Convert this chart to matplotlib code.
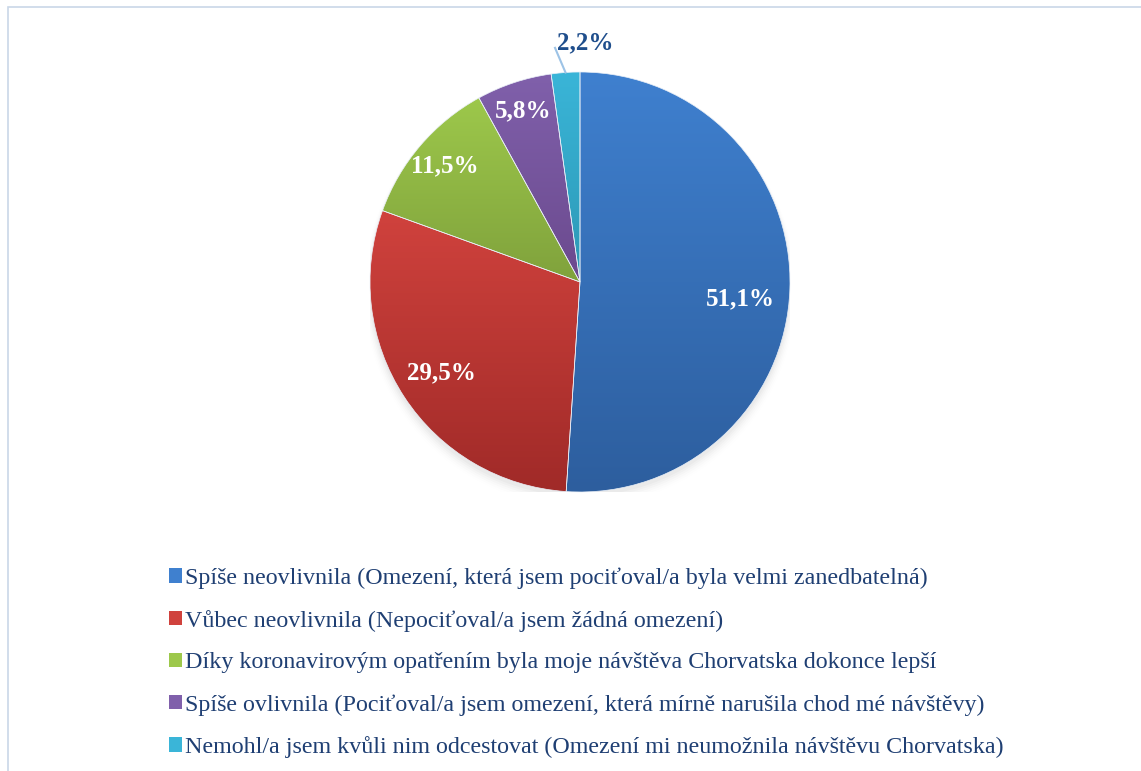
import numpy as np
import matplotlib
matplotlib.use("Agg")
import matplotlib.pyplot as plt
from matplotlib.colors import LinearSegmentedColormap
from matplotlib.patches import Rectangle

plt.rcParams['font.family'] = ['Liberation Serif', 'DejaVu Serif']

# data
categories = [
    "Spíše neovlivnila (Omezení, která jsem pociťoval/a byla velmi zanedbatelná)",
    "Vůbec neovlivnila (Nepociťoval/a jsem žádná omezení)",
    "Díky koronavirovým opatřením byla moje návštěva Chorvatska dokonce lepší",
    "Spíše ovlivnila (Pociťoval/a jsem omezení, která mírně narušila chod mé návštěvy)",
    "Nemohl/a jsem kvůli nim odcestovat (Omezení mi neumožnila návštěvu Chorvatska)",
]
values = [51.1, 29.5, 11.5, 5.8, 2.2]
labels = ["51,1%", "29,5%", "11,5%", "5,8%", "2,2%"]

# light (top) / dark (bottom) colour per slice
light = ["#3F80CF", "#D0423D", "#9DC84B", "#8060AB", "#3AB5D8"]
dark = ["#2D5E9E", "#A02A28", "#80A23C", "#6B4A8E", "#2C98B5"]

W, H = 1141, 771
fig = plt.figure(figsize=(W / 100, H / 100), dpi=100)

# chart area frame (runs off the right/bottom edge)
fig.patches.append(Rectangle((8 / W, -0.1), 1.2, 1 - 7 / H + 0.1,
                             transform=fig.transFigure, fill=False,
                             edgecolor="#C9D7E8", linewidth=1.2))

cx, cy, R = 580, 282, 210
ax = fig.add_axes([(cx - R) / W, 1 - (cy + R) / H, 2 * R / W, 2 * R / H])
ax.set_xlim(-1, 1)
ax.set_ylim(-1, 1)
ax.axis("off")

# soft shadow under the pie
for i, a in enumerate(np.linspace(0.05, 0.01, 6)):
    sh = plt.Circle((0.0, -0.02 - i * 0.004), 1.0 + i * 0.006,
                    color="black", alpha=a * 0.5, zorder=0, linewidth=0)
    ax.add_patch(sh)

wedges, _ = ax.pie(values, startangle=90, counterclock=False, radius=1,
                   colors=light, wedgeprops=dict(linewidth=0.5, edgecolor="#EAF0F8"))

# vertical gradient inside each slice
grad = np.linspace(0, 1, 256).reshape(-1, 1)
for w, c1, c2 in zip(wedges, light, dark):
    cmap = LinearSegmentedColormap.from_list("g", [c2, c1])
    bb = w.get_path().get_extents(w.get_transform() - ax.transData)
    im = ax.imshow(grad, cmap=cmap, aspect="auto",
                   extent=[bb.x0, bb.x1, bb.y0, bb.y1], origin="lower",
                   zorder=2)
    im.set_clip_path(w)
    w.set_zorder(3)
    w.set_facecolor("none")

ax.set_xlim(-1, 1)
ax.set_ylim(-1, 1)

# data labels
dist = [0.77, 0.79, 0.85, 0.86]
offs = [-4, 0, 0, 0]
total = sum(values)
start = 90.0
mids = []
for v in values:
    ang = start - 360 * v / total / 2
    mids.append(ang)
    start -= 360 * v / total
for i in range(4):
    a = np.deg2rad(mids[i] + offs[i])
    ax.text(dist[i] * np.cos(a), dist[i] * np.sin(a), labels[i],
            color="white", fontsize=18, fontweight="bold",
            ha="center", va="center", zorder=5)

a = np.deg2rad(mids[4])
ax.plot([np.cos(a), np.cos(a) - 0.05], [np.sin(a), 1.115],
        color="#9DC3E6", linewidth=1.5, zorder=5, clip_on=False)
ax.text(0.025, 1.14, labels[4], color="#1F4E8C", fontsize=18,
        fontweight="bold", ha="center", va="center", zorder=5, clip_on=False)

# legend
handles = [plt.Rectangle((0, 0), 1, 1, facecolor=c, edgecolor="none") for c in light]
leg = fig.legend(handles, categories, loc="upper left",
                 bbox_to_anchor=(147 / W, 1 - 546 / H), frameon=False,
                 fontsize=17.3, labelspacing=0.86, handlelength=0.55,
                 handleheight=0.55, handletextpad=0.12)
for t in leg.get_texts():
    t.set_color("#1F3F73")

fig.savefig("out.png", dpi=100)
